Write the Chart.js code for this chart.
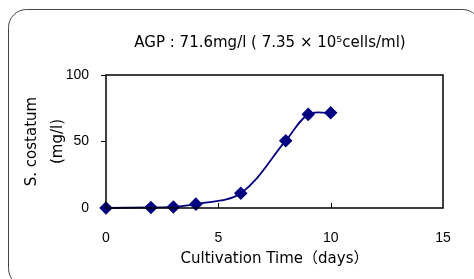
<!DOCTYPE html>
<html><head><meta charset="utf-8">
<script src="https://cdn.jsdelivr.net/npm/chart.js@4"></script>
<style>html,body{margin:0;padding:0;background:#fff;}#wrap{width:474px;height:279px;position:relative;}</style>
</head><body><div id="wrap"><canvas id="c" width="474" height="279"></canvas></div>
<script>
const days = [0, 2, 3, 4, 6, 8, 9, 10];
const biomass = [0, 0.4, 0.8, 2.9, 11.1, 50.6, 70.4, 71.6];
const xTicks = [0, 5, 10, 15];
const yTicks = [0, 50, 100];
const chartTitle = 'AGP : 71.6mg/l ( 7.35 × 10⁵cells/ml)';
const yTitle = ['S. costatum', '(mg/l)'];
const xTitle = 'Cultivation Time（days）';
const TFONT = '"DejaVu Sans", "Noto Sans CJK JP", sans-serif';
const NFONT = '"Liberation Sans", Arial, sans-serif';

const deco = {
  id: 'deco',
  beforeDraw(chart) {
    const ctx = chart.ctx;
    ctx.save();
    ctx.strokeStyle = '#444';
    ctx.lineWidth = 1;
    ctx.beginPath();
    ctx.roundRect(8.5, 9.5, 472, 277, 18);
    ctx.stroke();
    ctx.restore();
  },
  afterDraw(chart) {
    const ctx = chart.ctx, a = chart.chartArea, xs = chart.scales.x;
    ctx.save();
    ctx.strokeStyle = '#000';
    ctx.lineWidth = 1.5;
    ctx.strokeRect(a.left, a.top, a.right - a.left, a.bottom - a.top);
    ctx.lineWidth = 1;
    [5, 10].forEach(v => {
      const px = Math.round(xs.getPixelForValue(v)) + 0.5;
      ctx.beginPath(); ctx.moveTo(px, a.bottom); ctx.lineTo(px, a.bottom - 5); ctx.stroke();
    });
    ctx.fillStyle = '#000';
    ctx.font = '15px ' + TFONT;
    ctx.textAlign = 'center';
    ctx.textBaseline = 'middle';
    ctx.fillText(chartTitle, (a.left + a.right) / 2 - 4.5, 43);
    ctx.restore();
  }
};

new Chart(document.getElementById('c'), {
  type: 'line',
  data: {
    datasets: [{
      data: days.map((d, i) => ({x: d, y: biomass[i]})),
      borderColor: '#000080',
      backgroundColor: '#000080',
      borderWidth: 1.8,
      pointStyle: 'rectRot',
      pointRadius: 5.5,
      pointHoverRadius: 5.5,
      tension: 0.35,
      fill: false,
      clip: false
    }]
  },
  options: {
    responsive: false,
    animation: false,
    devicePixelRatio: 1,
    layout: {padding: {top: 75, right: 31, left: 0, bottom: 0}},
    plugins: {legend: {display: false}, tooltip: {enabled: false}, title: {display: false}},
    scales: {
      x: {
        type: 'linear', min: 0, max: 15,
        afterBuildTicks: s => { s.ticks = xTicks.map(v => ({value: v})); },
        afterFit: s => { s.height = 71; },
        grid: {display: false},
        border: {display: false},
        ticks: {color: '#000', font: {size: 14, family: NFONT}, padding: 14, maxRotation: 0},
        title: {display: true, text: xTitle, color: '#000', font: {size: 15, family: TFONT, lineHeight: 1.2}, padding: {top: 0, bottom: 11}}
      },
      y: {
        min: 0, max: 100,
        afterBuildTicks: s => { s.ticks = yTicks.map(v => ({value: v})); },
        afterFit: s => { s.width = 106; },
        grid: {display: true, drawOnChartArea: false, tickLength: 5, color: '#000', lineWidth: 1},
        border: {display: false},
        ticks: {color: '#000', font: {size: 14, family: NFONT}, padding: 12},
        title: {display: true, text: yTitle, color: '#000', font: {size: 15, family: TFONT, lineHeight: 1.73}, padding: {top: 19, bottom: 0}}
      }
    }
  },
  plugins: [deco]
});
</script></body></html>
